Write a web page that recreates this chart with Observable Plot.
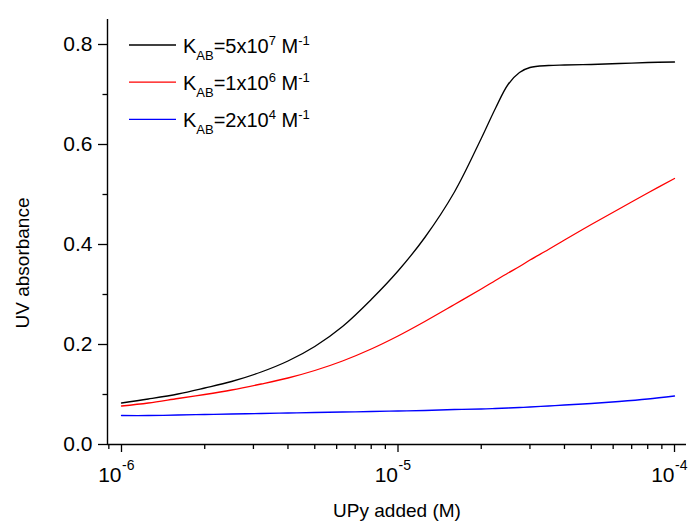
<!DOCTYPE html>
<html><head><meta charset="utf-8">
<script src="https://cdn.jsdelivr.net/npm/d3@7"></script>
<script src="https://cdn.jsdelivr.net/npm/@observablehq/plot@0.6"></script>
<style>
body{margin:0;background:#fff}
svg{font-family:"Liberation Sans",Arial,sans-serif}
</style>
</head><body><div id="chart"></div>
<script>
// UPy added (M)
const added = [1e-6, 1.25e-6, 1.6e-6, 2e-6, 2.5e-6, 3.2e-6, 4e-6, 5e-6, 6.3e-6, 8e-6, 1e-5, 1.25e-5, 1.6e-5, 2e-5, 2.25e-5, 2.5e-5, 2.75e-5, 3e-5, 3.5e-5, 4e-5, 5e-5, 6.3e-5, 8e-5, 1e-4];
// UV absorbance, K_AB = 5x10^7 M^-1
const absK5e7 = [0.083, 0.091, 0.101, 0.113, 0.126, 0.145, 0.167, 0.196, 0.236, 0.290, 0.347, 0.414, 0.505, 0.612, 0.672, 0.720, 0.744, 0.754, 0.758, 0.759, 0.760, 0.762, 0.764, 0.765];
// UV absorbance, K_AB = 1x10^6 M^-1
const absK1e6 = [0.077, 0.083, 0.092, 0.100, 0.109, 0.121, 0.133, 0.148, 0.167, 0.191, 0.217, 0.246, 0.280, 0.311, 0.328, 0.343, 0.356, 0.369, 0.390, 0.409, 0.440, 0.471, 0.503, 0.532];
// UV absorbance, K_AB = 2x10^4 M^-1
const absK2e4 = [0.058, 0.058, 0.059, 0.060, 0.061, 0.062, 0.063, 0.064, 0.065, 0.066, 0.067, 0.068, 0.070, 0.071, 0.072, 0.073, 0.074, 0.075, 0.077, 0.079, 0.082, 0.086, 0.091, 0.097];

const legendMantissa = ["5", "1", "2"];
const legendExponent = ["7", "6", "4"];
const seriesColors = ["#000000", "#ff0000", "#0000ff"];

const xMajor = [1e-6, 1e-5, 1e-4];
const xMajorExp = ["-6", "-5", "-4"];
const xMinor = [9e-7, 2e-6, 3e-6, 4e-6, 5e-6, 6e-6, 7e-6, 8e-6, 9e-6, 2e-5, 3e-5, 4e-5, 5e-5, 6e-5, 7e-5, 8e-5, 9e-5];
const yMajor = [0, 0.2, 0.4, 0.6, 0.8];
const yMinor = [0.1, 0.3, 0.5, 0.7];

const series = [absK5e7, absK1e6, absK2e4];
const xDomain = [8.9e-7, 1.105e-4];

const plot = Plot.plot({
  width: 690, height: 523,
  marginLeft: 107, marginRight: 4, marginTop: 19, marginBottom: 79,
  style: {fontFamily: '"Liberation Sans", Arial, sans-serif', fontSize: "21px", background: "white", color: "black", overflow: "visible"},
  x: {type: "log", domain: xDomain},
  y: {domain: [0, 0.85]},
  marks: [
    Plot.axisY({ticks: yMajor, tickSize: 9, tickPadding: 6, tickFormat: d3.format(".1f"), label: null, fontSize: 21, strokeWidth: 1.3}),
    Plot.axisY({ticks: yMinor, tickSize: 4.5, tickFormat: () => "", label: null, strokeWidth: 1.3}),
    Plot.axisX({ticks: xMajor, tickSize: 8, tickFormat: () => "", label: null, strokeWidth: 1.3}),
    Plot.axisX({ticks: xMinor, tickSize: 5, tickFormat: () => "", label: null, strokeWidth: 1.3}),
    Plot.ruleY([0], {strokeWidth: 1.4}),
    Plot.ruleX([xDomain[0]], {strokeWidth: 1.4}),
    Plot.text(xMajor, {x: d => d, frameAnchor: "bottom", text: () => "10", textAnchor: "end", lineAnchor: "bottom", dy: 37, fontSize: 21}),
    Plot.text(xMajor, {x: d => d, frameAnchor: "bottom", text: (d, i) => xMajorExp[i], textAnchor: "start", lineAnchor: "bottom", dx: 0.5, dy: 25, fontSize: 14}),
    ...series.map((s, k) => Plot.line(s, {x: (d, i) => added[i], y: d => d, stroke: seriesColors[k], strokeWidth: 1.3, curve: "catmull-rom"}))
  ]
});

const svg = d3.select(plot);
// axis titles
svg.append("text").attr("transform", "translate(22,263) rotate(-90)")
  .attr("text-anchor", "middle").attr("dy", "0.35em").attr("font-size", 19).attr("fill", "black")
  .text("UV absorbance");
svg.append("text").attr("x", 397).attr("y", 517)
  .attr("text-anchor", "middle").attr("font-size", 19).attr("fill", "black")
  .text("UPy added (M)");

// legend
const lg = svg.append("g").attr("text-anchor", "start");
legendMantissa.forEach((m, i) => {
  const ly = 45 + i * 37.2;
  lg.append("line").attr("x1", 129).attr("x2", 176).attr("y1", ly).attr("y2", ly)
    .attr("stroke", seriesColors[i]).attr("stroke-width", 1.3);
  const t = lg.append("text").attr("x", 183).attr("y", ly + 8).attr("font-size", 20).attr("fill", "black").attr("text-anchor", "start");
  t.append("tspan").text("K");
  t.append("tspan").attr("font-size", 13).attr("dy", 7).text("AB");
  t.append("tspan").attr("dy", -7).text("=" + m + "x10");
  t.append("tspan").attr("font-size", 13).attr("dy", -8).text(legendExponent[i]);
  t.append("tspan").attr("dy", 8).text(" M");
  t.append("tspan").attr("font-size", 13).attr("dy", -8).text("-1");
});

document.getElementById("chart").appendChild(plot);
</script>
</body></html>
